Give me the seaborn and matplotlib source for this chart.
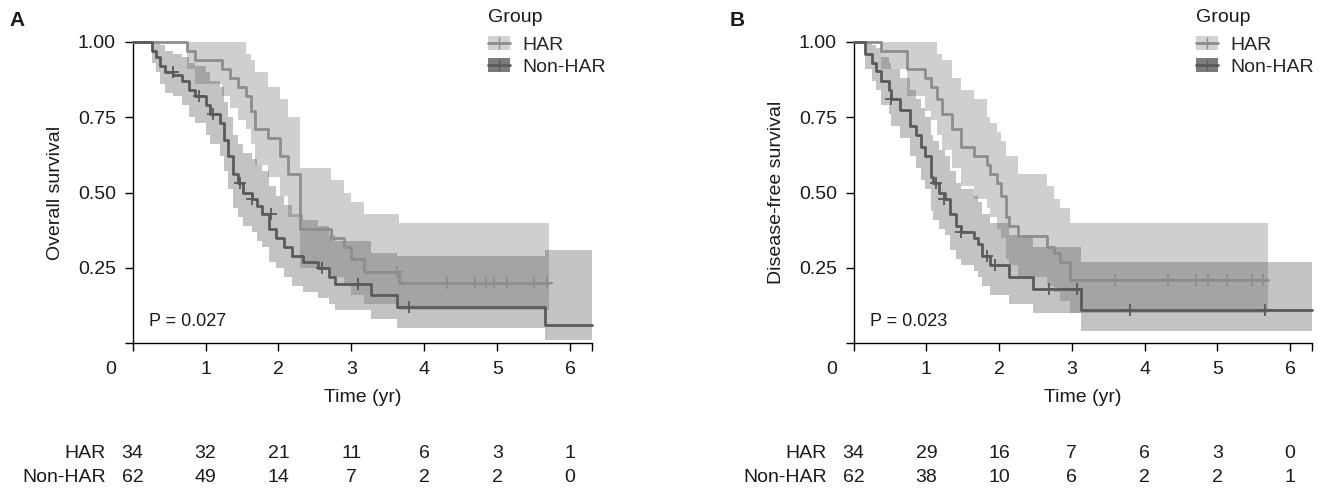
import numpy as np
import pandas as pd
import matplotlib
matplotlib.use("Agg")
import matplotlib.pyplot as plt
import matplotlib.transforms as mtrans
from matplotlib.patches import Patch
from matplotlib.lines import Line2D
import seaborn as sns

# ---------------- data ----------------
groups = ["HAR", "Non-HAR"]
risk_times = [0, 1, 2, 3, 4, 5, 6]

# Panel A: overall survival
a_har_t = [0, 0.74, 0.85, 1.22, 1.33, 1.45, 1.55, 1.63, 1.68, 1.85, 2.02, 2.13, 2.30, 2.72, 2.90, 3.00, 3.18, 3.65]
a_har_s = [1, 0.97, 0.94, 0.91, 0.88, 0.85, 0.82, 0.77, 0.71, 0.68, 0.62, 0.56, 0.38, 0.35, 0.32, 0.28, 0.235, 0.20]
a_har_lo = [1, 0.91, 0.86, 0.82, 0.78, 0.74, 0.71, 0.66, 0.59, 0.55, 0.49, 0.42, 0.25, 0.22, 0.19, 0.16, 0.13, 0.11]
a_har_hi = [1, 1.0, 1.0, 1.0, 1.0, 1.0, 0.96, 0.94, 0.90, 0.85, 0.81, 0.75, 0.58, 0.54, 0.50, 0.47, 0.43, 0.40]
a_har_end = 5.71
a_har_cens_t = [3.62, 4.31, 4.69, 4.84, 4.95, 5.13, 5.51, 5.68]
a_har_cens_s = [0.235, 0.20, 0.20, 0.20, 0.20, 0.20, 0.20, 0.20]

a_non_t = [0, 0.27, 0.32, 0.38, 0.45, 0.55, 0.68, 0.78, 0.85, 1.00, 1.06, 1.20, 1.26, 1.31, 1.38, 1.45,
           1.52, 1.64, 1.70, 1.78, 1.87, 1.96, 2.08, 2.19, 2.34, 2.54, 2.69, 2.77, 3.27, 3.62, 5.65]
a_non_s = [1, 0.97, 0.95, 0.92, 0.90, 0.89, 0.87, 0.84, 0.82, 0.79, 0.76, 0.73, 0.675, 0.62, 0.56, 0.53,
           0.50, 0.48, 0.455, 0.43, 0.38, 0.35, 0.32, 0.29, 0.27, 0.25, 0.22, 0.195, 0.16, 0.12, 0.06]
a_non_lo = [1, 0.93, 0.90, 0.86, 0.83, 0.82, 0.79, 0.75, 0.73, 0.69, 0.66, 0.62, 0.57, 0.51, 0.45, 0.42,
            0.39, 0.37, 0.34, 0.32, 0.27, 0.25, 0.22, 0.19, 0.17, 0.15, 0.13, 0.11, 0.08, 0.05, 0.01]
a_non_hi = [1, 1.0, 1.0, 0.99, 0.97, 0.96, 0.95, 0.93, 0.92, 0.90, 0.87, 0.85, 0.80, 0.75, 0.69, 0.66,
            0.63, 0.61, 0.59, 0.57, 0.52, 0.49, 0.46, 0.43, 0.41, 0.39, 0.36, 0.34, 0.30, 0.29, 0.31]
a_non_end = 6.3
a_non_cens_t = [0.56, 0.91, 1.10, 1.47, 1.64, 1.90, 2.60, 3.09, 3.79]
a_non_cens_s = [0.90, 0.82, 0.76, 0.53, 0.48, 0.43, 0.25, 0.195, 0.12]

a_risk_har = [34, 32, 21, 11, 6, 3, 1]
a_risk_non = [62, 49, 14, 7, 2, 2, 0]

# Panel B: disease-free survival
b_har_t = [0, 0.37, 0.74, 0.98, 1.06, 1.15, 1.21, 1.35, 1.47, 1.65, 1.83, 1.88, 1.97, 2.03, 2.09, 2.14, 2.26, 2.66, 2.75, 2.84, 2.97]
b_har_s = [1, 0.97, 0.91, 0.88, 0.85, 0.81, 0.76, 0.71, 0.65, 0.62, 0.59, 0.56, 0.53, 0.49, 0.42, 0.39, 0.355, 0.32, 0.30, 0.27, 0.21]
b_har_lo = [1, 0.91, 0.82, 0.77, 0.74, 0.69, 0.64, 0.58, 0.52, 0.48, 0.45, 0.42, 0.38, 0.35, 0.28, 0.26, 0.22, 0.19, 0.17, 0.14, 0.10]
b_har_hi = [1, 1.0, 1.0, 1.0, 1.0, 0.96, 0.94, 0.88, 0.84, 0.81, 0.75, 0.73, 0.70, 0.67, 0.62, 0.62, 0.56, 0.52, 0.48, 0.45, 0.40]
b_har_end = 5.69
b_har_cens_t = [3.59, 4.32, 4.70, 4.87, 5.13, 5.48, 5.63]
b_har_cens_s = [0.21, 0.21, 0.21, 0.21, 0.21, 0.21, 0.21]

b_non_t = [0, 0.16, 0.25, 0.31, 0.37, 0.48, 0.51, 0.64, 0.77, 0.86, 0.92, 0.98, 1.06, 1.09, 1.17, 1.26,
           1.33, 1.41, 1.47, 1.65, 1.71, 1.76, 1.88, 2.14, 2.47, 3.13]
b_non_s = [1, 0.96, 0.93, 0.905, 0.87, 0.84, 0.81, 0.775, 0.72, 0.69, 0.65, 0.62, 0.55, 0.53, 0.50, 0.48,
           0.43, 0.39, 0.37, 0.35, 0.33, 0.29, 0.26, 0.22, 0.18, 0.11]
b_non_lo = [1, 0.91, 0.87, 0.84, 0.79, 0.76, 0.72, 0.68, 0.62, 0.58, 0.54, 0.51, 0.44, 0.41, 0.38, 0.36,
            0.31, 0.28, 0.26, 0.24, 0.22, 0.19, 0.16, 0.13, 0.10, 0.04]
b_non_hi = [1, 1.0, 0.99, 0.98, 0.95, 0.93, 0.91, 0.88, 0.84, 0.81, 0.78, 0.75, 0.69, 0.67, 0.64, 0.62,
            0.57, 0.53, 0.51, 0.49, 0.47, 0.43, 0.40, 0.36, 0.32, 0.27]
b_non_end = 6.3
b_non_cens_t = [0.51, 1.13, 1.24, 1.47, 1.83, 1.94, 2.69, 3.07, 3.80, 5.66]
b_non_cens_s = [0.81, 0.53, 0.48, 0.37, 0.29, 0.26, 0.18, 0.18, 0.11, 0.11]

b_risk_har = [34, 29, 16, 7, 6, 3, 0]
b_risk_non = [62, 38, 10, 6, 2, 2, 1]

p_texts = ["P = 0.027", "P = 0.023"]
y_titles = ["Overall survival", "Disease-free survival"]
panel_tags = ["A", "B"]

# ---------------- styling ----------------
sns.set_style("ticks")
plt.rcParams["font.family"] = ["Liberation Sans", "DejaVu Sans"]
FS = 14
TXT = "#1a1a1a"
line_col = {"HAR": "#8d8d8d", "Non-HAR": "#5a5a5a"}
band_col = {"HAR": "#626262", "Non-HAR": "#545454"}
band_alpha = {"HAR": 0.30, "Non-HAR": 0.35}
key_col = {"HAR": "#d2d2d2", "Non-HAR": "#7b7b7b"}

W, H = 1322, 488
fig = plt.figure(figsize=(W / 100, H / 100), dpi=100)
axA = fig.add_axes([132.6 / W, 1 - 343 / H, (592 - 132.6) / W, 301 / H])
axB = fig.add_axes([853.6 / W, 1 - 343 / H, (1312 - 853.6) / W, 301 / H])


def km_frame(t, s, lo, hi, end):
    return pd.DataFrame({"time": list(t) + [end], "surv": list(s) + [s[-1]],
                         "lower": list(lo) + [lo[-1]], "upper": list(hi) + [hi[-1]]})


def draw_panel(ax, curves, ptext, ytitle, tag, risk, legend_x):
    for g, df, _, _ in curves:
        ax.fill_between(df["time"], df["lower"], df["upper"], step="post",
                        color=band_col[g], alpha=band_alpha[g], lw=0, zorder=1)
    for g, df, ct, cs in curves:
        sns.lineplot(x=df["time"], y=df["surv"], drawstyle="steps-post", estimator=None, sort=False,
                     color=line_col[g], lw=2.0, ax=ax, zorder=3, clip_on=False)
        ax.scatter(ct, cs, marker="+", s=70, color=line_col[g], linewidths=1.3, zorder=4)

    ax.set_xlim(0, 6.3)
    ax.set_ylim(0, 1)
    ax.set_xticks(risk_times)
    ax.set_xticks([6.3], minor=True)
    ax.set_xticklabels([str(v) for v in risk_times])
    ax.set_yticks([0, 0.25, 0.5, 0.75, 1.0])
    ax.set_yticklabels(["", "0.25", "0.50", "0.75", "1.00"])
    ax.tick_params(axis="both", which="both", length=6, width=1.0, color="black",
                   labelsize=FS, labelcolor=TXT, pad=6)
    ax.tick_params(axis="x", pad=7)
    sns.despine(ax=ax)
    for sp in ["left", "bottom"]:
        ax.spines[sp].set_linewidth(1.0)
        ax.spines[sp].set_color("black")
    # the "0" label sits left of the origin
    lab0 = ax.get_xticklabels()[0]
    lab0.set_transform(lab0.get_transform() + mtrans.ScaledTranslation(-0.215, 0, fig.dpi_scale_trans))

    ax.set_xlabel("Time (yr)", fontsize=FS, color=TXT, labelpad=8)
    ax.set_ylabel(ytitle, fontsize=FS, color=TXT, labelpad=10)
    ax.text(0.22, 0.073, ptext, fontsize=FS - 1, color=TXT, ha="left", va="center")

    x0 = ax.get_position().x0
    fig.text(x0 - 116 / W, 1 - 20 / H, tag, fontsize=FS + 1, fontweight="bold", color=TXT,
             ha="center", va="center")

    # legend: title as its own text, entries below
    fig.text(legend_x, 1 - 18 / H, "Group", fontsize=FS, color=TXT, ha="left", va="center")
    handles = [(Patch(facecolor=key_col[g], edgecolor="none"),
                Line2D([], [], color=line_col[g], lw=2.0, marker="+", markersize=8)) for g in groups]
    ax.legend(handles, groups, loc="upper left", bbox_to_anchor=(legend_x, 1 - 36 / H),
              bbox_transform=fig.transFigure, frameon=False, fontsize=FS,
              handlelength=1.15, handleheight=0.75, handletextpad=0.6, labelspacing=0.2,
              borderpad=0, borderaxespad=0)

    tr = mtrans.blended_transform_factory(ax.transData, fig.transFigure)
    for row, (g, vals) in enumerate(zip(groups, risk)):
        yy = 1 - (453 + 24 * row) / H
        ax.text(-0.37, yy, g, transform=tr, ha="right", va="center", fontsize=FS, color=TXT)
        for t, v in zip(risk_times, vals):
            ax.text(t, yy, str(v), transform=tr, ha="center", va="center", fontsize=FS, color=TXT)


curves_A = [("HAR", km_frame(a_har_t, a_har_s, a_har_lo, a_har_hi, a_har_end), a_har_cens_t, a_har_cens_s),
            ("Non-HAR", km_frame(a_non_t, a_non_s, a_non_lo, a_non_hi, a_non_end), a_non_cens_t, a_non_cens_s)]
curves_B = [("HAR", km_frame(b_har_t, b_har_s, b_har_lo, b_har_hi, b_har_end), b_har_cens_t, b_har_cens_s),
            ("Non-HAR", km_frame(b_non_t, b_non_s, b_non_lo, b_non_hi, b_non_end), b_non_cens_t, b_non_cens_s)]

draw_panel(axA, curves_A, p_texts[0], y_titles[0], panel_tags[0], [a_risk_har, a_risk_non], 488 / W)
draw_panel(axB, curves_B, p_texts[1], y_titles[1], panel_tags[1], [b_risk_har, b_risk_non], 1196 / W)

fig.savefig("out.png", dpi=100, facecolor="white")
